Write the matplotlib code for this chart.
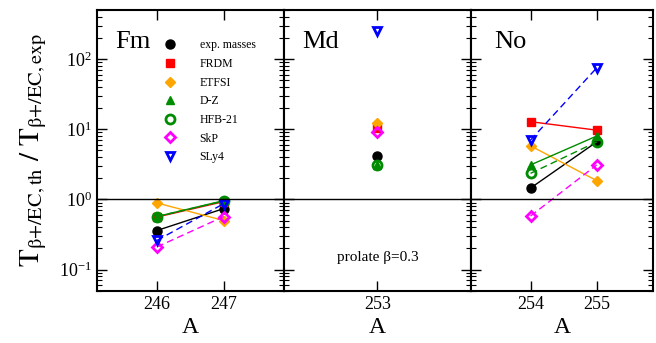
import matplotlib
matplotlib.use("Agg")
import matplotlib.pyplot as plt
from matplotlib.lines import Line2D

plt.rcParams['font.family'] = ['Liberation Serif', 'DejaVu Serif']
plt.rcParams['mathtext.fontset'] = 'stix'

# ---- data ----
models = ["exp. masses", "FRDM", "ETFSI", "D-Z", "HFB-21", "SkP", "SLy4"]
colors = ["black", "#ff0000", "#ffa500", "#008c00", "#008c00", "#ff00ff", "#0000ff"]
markers = ["o", "s", "D", "^", "o", "D", "v"]
filled = [True, True, True, True, False, False, False]
styles = ["-", "-", "-", "-", "--", "--", "--"]

A_Fm = [246, 247]
Fm = {
    "exp. masses": [0.36, 0.74],
    "FRDM": [0.56, 0.93],
    "ETFSI": [0.89, 0.50],
    "D-Z": [0.57, 0.96],
    "HFB-21": [0.57, 0.95],
    "SkP": [0.21, 0.57],
    "SLy4": [0.26, 0.87],
}
A_Md = [253]
Md = {
    "exp. masses": [4.2],
    "FRDM": [10.3],
    "ETFSI": [12.2],
    "D-Z": [3.1],
    "HFB-21": [3.1],
    "SkP": [9.0],
    "SLy4": [250.0],
}
A_No = [254, 255]
No = {
    "exp. masses": [1.45, 6.6],
    "FRDM": [12.8, 9.7],
    "ETFSI": [5.8, 1.85],
    "D-Z": [3.1, 8.0],
    "HFB-21": [2.35, 6.6],
    "SkP": [0.58, 3.1],
    "SLy4": [7.0, 75.0],
}

panels = [("Fm", A_Fm, Fm, (245.1, 247.9)),
          ("Md", A_Md, Md, (251.6, 254.4)),
          ("No", A_No, No, (253.1, 255.85))]

fig = plt.figure(figsize=(6.56, 3.43), dpi=100)
gs = fig.add_gridspec(1, 3, left=0.1474, right=0.9954, top=0.9708, bottom=0.1525,
                      wspace=0, width_ratios=[187.3, 187, 182])
axes = [fig.add_subplot(gs[0, i]) for i in range(3)]


def msize(mk):
    return 6.5 if mk == "o" else (6 if mk in ("s", "^", "v") else 5.5)


for i, (ax, (name, A, data, xl)) in enumerate(zip(axes, panels)):
    for m, c, mk, f, ls in zip(models, colors, markers, filled, styles):
        ax.plot(A, data[m], linestyle=ls, color=c, lw=1.0, marker=mk, markersize=msize(mk),
                markerfacecolor=(c if f else 'none'), markeredgecolor=c,
                markeredgewidth=(1.0 if f else 2.0), dashes=((5, 3) if ls == "--" else (None, None)))
    ax.set_yscale('log')
    ax.set_ylim(0.05, 500)
    ax.set_xlim(*xl)
    ax.set_xticks(A)
    ax.set_xticklabels([str(a) for a in A], fontsize=13)
    ax.axhline(1.0, color='black', lw=1.0)
    ax.tick_params(axis='both', which='major', direction='in', length=7, width=1.0,
                   top=True, right=True, labelsize=13)
    ax.tick_params(axis='both', which='minor', direction='in', length=3.5, width=0.8,
                   top=False, right=True)
    ax.tick_params(axis='x', which='minor', bottom=False, top=False)
    for s in ax.spines.values():
        s.set_linewidth(1.5)
    ax.set_xlabel("A", fontsize=17, labelpad=3)
    if i > 0:
        ax.tick_params(axis='y', which='both', labelleft=False)
    ax.text(0.1 if i < 2 else 0.13, 0.885, name, transform=ax.transAxes, fontsize=19,
            va='center', ha='left')

axes[0].set_ylabel(r"$\mathrm{T}_{\mathrm{β{+}/EC,th}}\ \mathrm{/}\ \mathrm{T}_{\mathrm{β{+}/EC,exp}}$",
                   fontsize=21, labelpad=7)
axes[1].text(0.5, 0.12, "prolate β=0.3", transform=axes[1].transAxes,
             fontsize=11, ha='center', va='center')

handles = []
for m, c, mk, f in zip(models, colors, markers, filled):
    handles.append(Line2D([], [], linestyle='none', marker=mk, color=c, markersize=msize(mk),
                          markerfacecolor=(c if f else 'none'), markeredgecolor=c,
                          markeredgewidth=(1.0 if f else 2.0)))
axes[0].legend(handles, models, loc='upper left', bbox_to_anchor=(0.36, 0.895),
               frameon=False, fontsize=8.5, handlelength=1.0, handletextpad=2.0,
               labelspacing=0.56, borderpad=0, borderaxespad=0)

fig.savefig("out.png", dpi=100)
